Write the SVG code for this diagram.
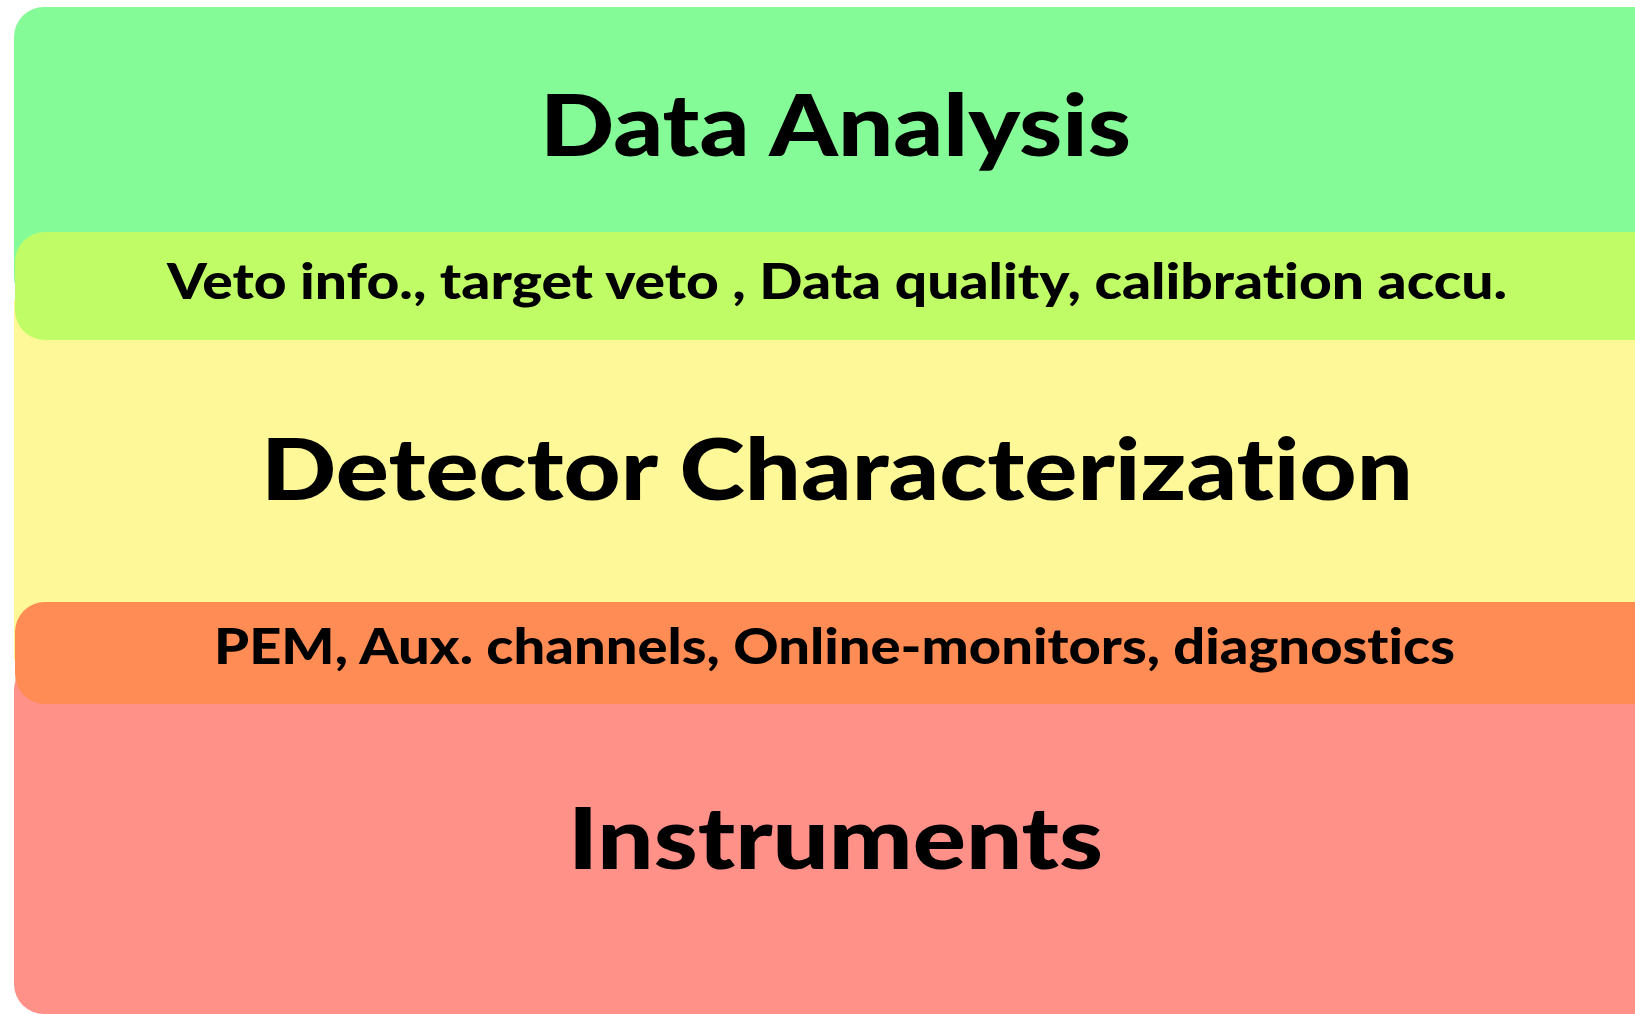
<svg xmlns="http://www.w3.org/2000/svg" width="1635" height="1014" viewBox="0 0 1635 1014">
<style>
text{font-family:Lato,"Liberation Sans",Arial,sans-serif;font-weight:900;fill:#000;text-anchor:middle;font-variant-ligatures:none;font-feature-settings:"liga" 0,"clig" 0}
.big{font-size:86px}
.small{font-size:49px}
</style>
<rect width="1635" height="1014" fill="#fff"/>
<g id="data-analysis">
<rect x="14" y="7" width="1700" height="300" rx="30" fill="#85FB98"/>
<text class="big" x="835.5" y="156" textLength="591" lengthAdjust="spacingAndGlyphs">Data Analysis</text>
</g>
<g id="detector-characterization">
<rect x="14" y="300" width="1700" height="360" fill="#FEF898"/>
<text class="big" x="837" y="500" textLength="1152" lengthAdjust="spacingAndGlyphs">Detector Characterization</text>
</g>
<g id="instruments">
<rect x="14" y="660" width="1700" height="354" rx="30" fill="#FF9189"/>
<text class="big" x="835.5" y="869" textLength="535" lengthAdjust="spacingAndGlyphs">Instruments</text>
</g>
<g id="veto-band">
<rect x="15" y="232" width="1700" height="108" rx="30" fill="#C0FC66"/>
<text class="small" x="837" y="299" textLength="1340" lengthAdjust="spacingAndGlyphs">Veto info., target veto , Data quality, calibration accu.</text>
</g>
<g id="pem-band">
<rect x="15" y="602" width="1700" height="102" rx="30" fill="#FF8C54"/>
<text class="small" x="834.5" y="664" textLength="1241" lengthAdjust="spacingAndGlyphs">PEM, Aux. channels, Online-monitors, diagnostics</text>
</g>
<g id="connectors"/>
</svg>
